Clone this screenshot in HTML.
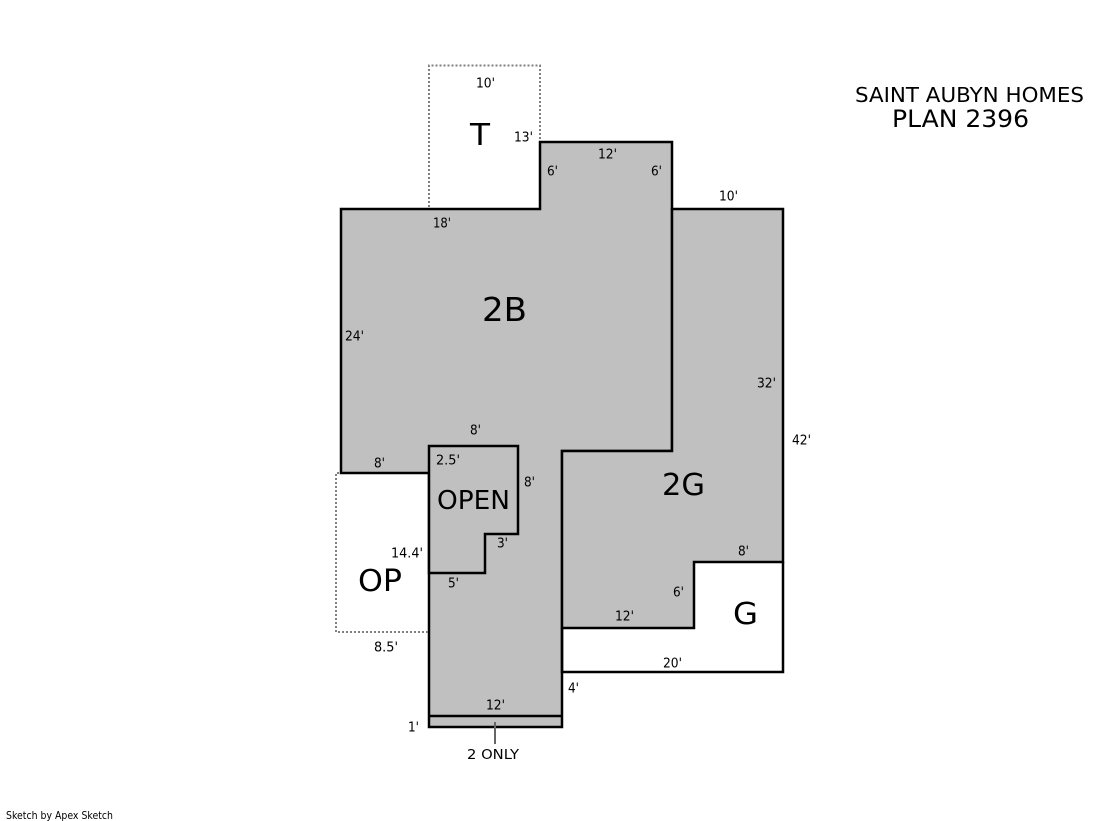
<!DOCTYPE html>
<html><head><meta charset="utf-8"><style>
html,body{margin:0;padding:0;background:#fff}
svg{display:block;position:absolute;left:0;top:0}
text{font-family:"DejaVu Sans","Liberation Sans",sans-serif;fill:#000}
.s{font-size:13px}
</style></head><body>
<svg width="1119" height="821" viewBox="0 0 1119 821">
<rect width="1119" height="821" fill="#fff"/>
<g fill="#c0c0c0" stroke="#000" stroke-width="2.5">
<polygon points="341,209 540,209 540,142 672,142 672,451 562,451 562,727 429,727 429,473 341,473"/>
<polygon points="672,209 783,209 783,562 694,562 694,628 562,628 562,451 672,451"/>
<polygon points="429,446 518,446 518,534 485,534 485,573 429,573"/>
<polyline fill="none" points="562,628 562,672 783,672 783,562"/>
<line x1="429" y1="716" x2="562" y2="716"/>
</g>
<g fill="none" stroke="#808080" stroke-width="2" stroke-dasharray="2 2">
<polyline points="429,207 429,65.5 540,65.5 540,141"/>
<polyline points="428,632 336,632 336,473 340,473"/>
</g>
<line x1="495" y1="722" x2="495" y2="744" stroke="#666" stroke-width="2"/>
<g transform="translate(0,-0.5)">
<text class="s" x="476" y="88" textLength="19" lengthAdjust="spacingAndGlyphs">10'</text>
<text class="s" x="514" y="142" textLength="19" lengthAdjust="spacingAndGlyphs">13'</text>
<text class="s" x="598" y="159" textLength="19" lengthAdjust="spacingAndGlyphs">12'</text>
<text class="s" x="547" y="176" textLength="11" lengthAdjust="spacingAndGlyphs">6'</text>
<text class="s" x="651" y="176" textLength="11" lengthAdjust="spacingAndGlyphs">6'</text>
<text class="s" x="719" y="201" textLength="19" lengthAdjust="spacingAndGlyphs">10'</text>
<text class="s" x="433" y="228" textLength="18" lengthAdjust="spacingAndGlyphs">18'</text>
<text class="s" x="345" y="341" textLength="19" lengthAdjust="spacingAndGlyphs">24'</text>
<text class="s" x="757" y="388" textLength="19" lengthAdjust="spacingAndGlyphs">32'</text>
<text class="s" x="470" y="435" textLength="11" lengthAdjust="spacingAndGlyphs">8'</text>
<text class="s" x="792" y="445" textLength="19" lengthAdjust="spacingAndGlyphs">42'</text>
<text class="s" x="374" y="468" textLength="11" lengthAdjust="spacingAndGlyphs">8'</text>
<text class="s" x="436" y="465" textLength="24" lengthAdjust="spacingAndGlyphs">2.5'</text>
<text class="s" x="524" y="487" textLength="11" lengthAdjust="spacingAndGlyphs">8'</text>
<text class="s" x="497" y="548" textLength="11" lengthAdjust="spacingAndGlyphs">3'</text>
<text class="s" x="738" y="556" textLength="11" lengthAdjust="spacingAndGlyphs">8'</text>
<text class="s" x="391" y="558" textLength="32" lengthAdjust="spacingAndGlyphs">14.4'</text>
<text class="s" x="448" y="588" textLength="11" lengthAdjust="spacingAndGlyphs">5'</text>
<text class="s" x="673" y="597" textLength="11" lengthAdjust="spacingAndGlyphs">6'</text>
<text class="s" x="615" y="621" textLength="19" lengthAdjust="spacingAndGlyphs">12'</text>
<text class="s" x="374" y="652" textLength="24" lengthAdjust="spacingAndGlyphs">8.5'</text>
<text class="s" x="663" y="668" textLength="19" lengthAdjust="spacingAndGlyphs">20'</text>
<text class="s" x="568" y="693" textLength="11" lengthAdjust="spacingAndGlyphs">4'</text>
<text class="s" x="486" y="710" textLength="19" lengthAdjust="spacingAndGlyphs">12'</text>
<text class="s" x="408" y="732" textLength="11" lengthAdjust="spacingAndGlyphs">1'</text>
</g>
<text x="467" y="759" font-size="13.5" textLength="52" lengthAdjust="spacingAndGlyphs">2 ONLY</text>
<text x="470" y="145" font-size="30" textLength="20" lengthAdjust="spacingAndGlyphs">T</text>
<text x="482" y="321" font-size="33" textLength="45" lengthAdjust="spacingAndGlyphs">2B</text>
<text x="437" y="509" font-size="26" textLength="73" lengthAdjust="spacingAndGlyphs">OPEN</text>
<text x="662" y="495" font-size="30" textLength="43" lengthAdjust="spacingAndGlyphs">2G</text>
<text x="358" y="591" font-size="30" textLength="44" lengthAdjust="spacingAndGlyphs">OP</text>
<text x="733" y="624" font-size="30" textLength="25" lengthAdjust="spacingAndGlyphs">G</text>
<text x="855" y="102" font-size="20.5" textLength="229" lengthAdjust="spacingAndGlyphs">SAINT AUBYN HOMES</text>
<text x="892" y="127" font-size="24" textLength="137" lengthAdjust="spacingAndGlyphs">PLAN 2396</text>
<text x="6" y="819" font-size="10.5" textLength="107" lengthAdjust="spacingAndGlyphs">Sketch by Apex Sketch</text>
</svg>
</body></html>
